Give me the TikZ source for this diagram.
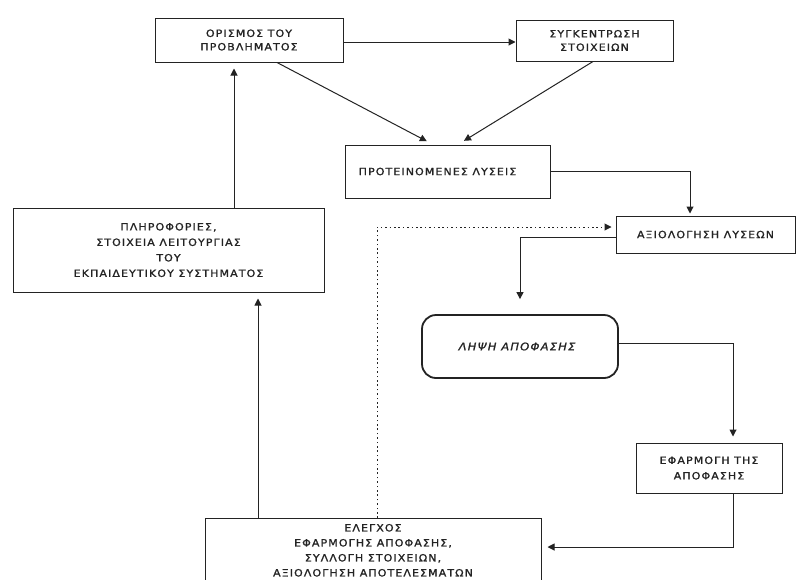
\documentclass[tikz,border=0pt]{standalone}
\usepackage{fontspec}
\newfontfamily\gr{DejaVu Sans}[FakeStretch=1.1,LetterSpace=11,FakeBold=1.3]
\usetikzlibrary{arrows.meta}
\definecolor{ink}{RGB}{35,35,35}
\begin{document}
\begin{tikzpicture}[x=1pt,y=-1pt,
  box/.style={draw=ink, text=ink, line width=1pt, align=center, inner sep=0pt,
    font=\gr\fontsize{10}{13.5}\selectfont},
  wide/.style={font=\gr\fontsize{10}{15.5}\selectfont},
  arr/.style={draw=ink, line width=1pt, -{Triangle[length=7pt,width=7pt]}},
  dotarr/.style={arr, dash pattern=on 1.6pt off 2.8pt}]
\clip (0,0) rectangle (802,579);
\fill[white] (0,0) rectangle (802,579);

\node[box, minimum width=188pt, minimum height=44pt] (A) at (249,40) {ΟΡΙΣΜΟΣ ΤΟΥ\\ΠΡΟΒΛΗΜΑΤΟΣ};
\node[box, minimum width=157pt, minimum height=41pt] (B) at (594.5,40.5) {ΣΥΓΚΕΝΤΡΩΣΗ\\ΣΤΟΙΧΕΙΩΝ};
\node[box, minimum width=205pt, minimum height=53pt] (C) at (447.5,171.5) {ΠΡΟΤΕΙΝΟΜΕΝΕΣ ΛΥΣΕΙΣ\hspace*{20pt}};
\node[box, minimum width=179pt, minimum height=37pt] (D) at (705.5,234.5) {ΑΞΙΟΛΟΓΗΣΗ ΛΥΣΕΩΝ};
\node[box, line width=1.8pt, rounded corners=14pt, minimum width=196pt, minimum height=63pt,
  font=\gr\itshape\fontsize{10.5}{13.5}\selectfont] (G) at (520,346.5) {ΛΗΨΗ ΑΠΟΦΑΣΗΣ\hspace*{6pt}};
\node[box, wide, minimum width=146pt, minimum height=50pt] (F) at (709,468) {ΕΦΑΡΜΟΓΗ ΤΗΣ\\ΑΠΟΦΑΣΗΣ};
\node[box, wide, minimum width=311pt, minimum height=84pt] (H) at (168.5,250)
  {ΠΛΗΡΟΦΟΡΙΕΣ,\\ΣΤΟΙΧΕΙΑ ΛΕΙΤΟΥΡΓΙΑΣ\\ΤΟΥ\\ΕΚΠΑΙΔΕΥΤΙΚΟΥ ΣΥΣΤΗΜΑΤΟΣ};
\node[box, font=\gr\fontsize{10}{15}\selectfont, anchor=north, minimum width=336pt,
  inner ysep=5.5pt, minimum height=90pt, text depth=30pt] (E) at (373,518)
  {ΕΛΕΓΧΟΣ\\ΕΦΑΡΜΟΓΗΣ ΑΠΟΦΑΣΗΣ,\\ΣΥΛΛΟΓΗ ΣΤΟΙΧΕΙΩΝ,\\ΑΞΙΟΛΟΓΗΣΗ ΑΠΟΤΕΛΕΣΜΑΤΩΝ};

\draw[arr] ([yshift=-2pt]A.east) -- ([yshift=-2pt]A.east -| B.west);
\draw[arr, shorten >=7pt] ([xshift=28pt]A.south) -- ([xshift=-14.5pt]C.north);
\draw[arr, shorten >=7pt] ([xshift=-1.5pt]B.south) -- ([xshift=10.5pt]C.north);
\draw[arr, shorten >=2pt] (C.east) -| ([xshift=-15.5pt]D.north);
\draw[arr, shorten >=15pt] ([yshift=-2.5pt]D.west) -| (G.north);
\draw[dotarr, shorten >=4pt] ([xshift=4pt]E.north) |- ([yshift=7.5pt]D.west);
\draw[arr, shorten >=6pt] ([yshift=3.5pt]G.east) -| ([xshift=24pt]F.north);
\draw[arr, shorten >=6pt] ([xshift=24pt]F.south) |- ([yshift=-29pt]E.north east);
\draw[arr, shorten >=6pt] ([xshift=-115pt]E.north) -- ([xshift=89.5pt]H.south);
\draw[arr, shorten >=6pt] ([xshift=65.5pt]H.north) -- ([xshift=-15pt]A.south);
\end{tikzpicture}
\end{document}
